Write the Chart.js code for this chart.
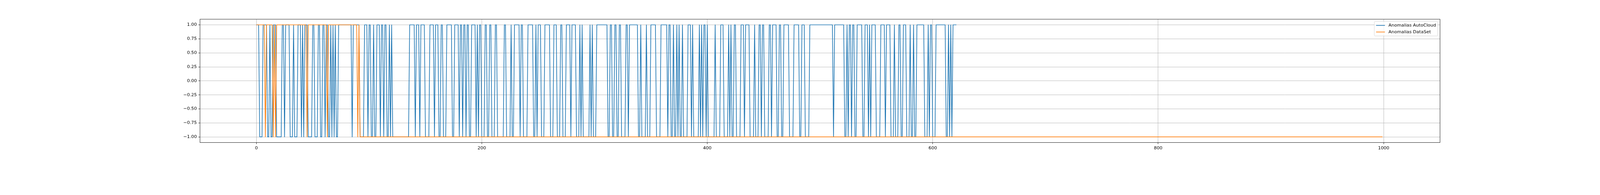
<!DOCTYPE html>
<html>
<head>
<meta charset="utf-8">
<script src="https://cdn.jsdelivr.net/npm/chart.js@4"></script>
<style>
  html, body { margin: 0; padding: 0; background: #ffffff; overflow: hidden; }
  #wrap { position: relative; width: 100vw; height: 100vh; }
  canvas { display: block; }
</style>
</head>
<body>
<div id="wrap"><canvas id="c"></canvas></div>
<script>
// ---- data ----
const seriesLabels = ['Anomalias AutoCloud', 'Anomalias DataSet'];
const seriesColors = ['#1f77b4', '#ff7f0e'];

const autoCloud = [
  1,1,1,-1,-1,-1,1,1,1,1,-1,-1,1,-1,-1,1,1,1,-1,-1,
  -1,-1,-1,1,1,-1,1,1,1,1,-1,-1,-1,1,-1,-1,-1,1,1,1,
  -1,1,-1,1,1,1,-1,-1,-1,-1,1,1,-1,-1,-1,1,1,-1,-1,1,
  1,-1,1,1,-1,-1,1,-1,1,-1,1,-1,-1,1,1,1,1,1,1,1,
  1,1,1,1,1,-1,1,1,1,1,1,1,-1,-1,-1,-1,1,1,1,-1,
  1,1,-1,-1,1,-1,-1,1,1,1,-1,1,1,-1,1,1,-1,-1,1,-1,
  1,-1,-1,-1,-1,-1,-1,-1,-1,-1,-1,-1,-1,-1,-1,-1,1,1,1,1,
  1,-1,1,1,1,-1,1,1,1,1,-1,-1,-1,-1,1,1,1,1,-1,1,
  1,1,-1,-1,1,1,-1,-1,-1,1,1,1,1,1,-1,-1,1,1,1,1,
  -1,1,1,-1,1,1,-1,1,1,-1,-1,1,1,1,1,-1,1,-1,1,1,
  -1,-1,-1,1,1,-1,-1,1,1,-1,-1,-1,1,1,-1,-1,-1,-1,-1,-1,
  1,1,-1,-1,-1,-1,1,-1,-1,1,1,1,1,1,-1,1,1,-1,-1,-1,
  -1,1,1,1,1,1,-1,-1,1,-1,1,1,1,-1,-1,-1,1,1,1,1,
  1,-1,-1,-1,1,1,1,-1,-1,-1,1,1,-1,-1,-1,1,1,1,1,-1,
  1,1,1,1,-1,-1,-1,1,-1,1,-1,-1,-1,-1,-1,-1,1,-1,1,-1,
  -1,-1,1,1,1,1,1,1,1,1,1,1,-1,-1,1,1,-1,-1,1,1,
  -1,-1,1,1,-1,-1,-1,-1,1,1,-1,1,1,1,1,1,1,1,1,-1,
  -1,1,-1,-1,-1,-1,1,-1,-1,-1,1,1,1,1,1,-1,-1,-1,-1,1,
  1,1,1,1,1,-1,1,1,-1,-1,1,-1,-1,1,-1,1,-1,-1,1,-1,
  -1,-1,-1,1,1,1,-1,1,-1,-1,-1,-1,-1,1,-1,1,-1,1,1,-1,
  1,-1,-1,-1,-1,-1,-1,1,-1,-1,-1,-1,1,1,1,-1,-1,-1,-1,1,
  -1,1,-1,-1,1,1,-1,-1,-1,-1,1,1,1,-1,1,1,1,1,-1,-1,
  -1,-1,1,-1,-1,-1,1,1,-1,1,1,-1,-1,-1,-1,1,1,-1,1,1,
  1,1,-1,-1,1,1,-1,-1,1,1,1,1,1,-1,-1,-1,-1,1,1,1,
  1,1,-1,-1,1,1,1,-1,-1,-1,-1,1,1,1,1,1,1,1,1,1,
  1,1,1,1,1,1,1,1,1,1,1,1,-1,1,1,1,1,1,1,1,
  1,1,-1,-1,1,-1,1,1,-1,1,1,-1,-1,1,1,1,1,1,-1,-1,
  1,1,1,-1,1,-1,1,1,1,1,-1,-1,-1,-1,1,1,1,1,-1,1,
  1,1,1,-1,-1,-1,1,-1,-1,-1,1,1,-1,-1,1,1,1,-1,-1,-1,
  1,-1,-1,1,-1,-1,1,1,1,1,1,1,1,-1,-1,-1,1,-1,1,1,
  -1,-1,-1,1,1,1,1,1,1,1,1,1,-1,-1,1,-1,1,-1,1,1,
  1,1
];

const dataSet = [
  1,1,1,1,1,1,1,1,-1,1,1,1,1,1,1,-1,1,-1,1,1,1,1,1,1,1,1,1,1,1,1,1,1,1,1,1,1,1,1,1,1,1,1,1,1,1,-1,1,1,1,1,
  1,1,1,1,1,1,1,1,1,1,1,1,1,-1,1,1,1,1,1,1,1,1,1,1,1,1,1,1,1,1,1,1,1,1,1,1,1,1,1,1,-1,1,-1,-1,-1,-1,-1,-1,-1,-1,
  -1,-1,-1,-1,-1,-1,-1,-1,-1,-1,-1,-1,-1,-1,-1,-1,-1,-1,-1,-1,-1,-1,-1,-1,-1,-1,-1,-1,-1,-1,-1,-1,-1,-1,-1,-1,-1,-1,-1,-1,-1,-1,-1,-1,-1,-1,-1,-1,-1,-1,
  -1,-1,-1,-1,-1,-1,-1,-1,-1,-1,-1,-1,-1,-1,-1,-1,-1,-1,-1,-1,-1,-1,-1,-1,-1,-1,-1,-1,-1,-1,-1,-1,-1,-1,-1,-1,-1,-1,-1,-1,-1,-1,-1,-1,-1,-1,-1,-1,-1,-1,
  -1,-1,-1,-1,-1,-1,-1,-1,-1,-1,-1,-1,-1,-1,-1,-1,-1,-1,-1,-1,-1,-1,-1,-1,-1,-1,-1,-1,-1,-1,-1,-1,-1,-1,-1,-1,-1,-1,-1,-1,-1,-1,-1,-1,-1,-1,-1,-1,-1,-1,
  -1,-1,-1,-1,-1,-1,-1,-1,-1,-1,-1,-1,-1,-1,-1,-1,-1,-1,-1,-1,-1,-1,-1,-1,-1,-1,-1,-1,-1,-1,-1,-1,-1,-1,-1,-1,-1,-1,-1,-1,-1,-1,-1,-1,-1,-1,-1,-1,-1,-1,
  -1,-1,-1,-1,-1,-1,-1,-1,-1,-1,-1,-1,-1,-1,-1,-1,-1,-1,-1,-1,-1,-1,-1,-1,-1,-1,-1,-1,-1,-1,-1,-1,-1,-1,-1,-1,-1,-1,-1,-1,-1,-1,-1,-1,-1,-1,-1,-1,-1,-1,
  -1,-1,-1,-1,-1,-1,-1,-1,-1,-1,-1,-1,-1,-1,-1,-1,-1,-1,-1,-1,-1,-1,-1,-1,-1,-1,-1,-1,-1,-1,-1,-1,-1,-1,-1,-1,-1,-1,-1,-1,-1,-1,-1,-1,-1,-1,-1,-1,-1,-1,
  -1,-1,-1,-1,-1,-1,-1,-1,-1,-1,-1,-1,-1,-1,-1,-1,-1,-1,-1,-1,-1,-1,-1,-1,-1,-1,-1,-1,-1,-1,-1,-1,-1,-1,-1,-1,-1,-1,-1,-1,-1,-1,-1,-1,-1,-1,-1,-1,-1,-1,
  -1,-1,-1,-1,-1,-1,-1,-1,-1,-1,-1,-1,-1,-1,-1,-1,-1,-1,-1,-1,-1,-1,-1,-1,-1,-1,-1,-1,-1,-1,-1,-1,-1,-1,-1,-1,-1,-1,-1,-1,-1,-1,-1,-1,-1,-1,-1,-1,-1,-1,
  -1,-1,-1,-1,-1,-1,-1,-1,-1,-1,-1,-1,-1,-1,-1,-1,-1,-1,-1,-1,-1,-1,-1,-1,-1,-1,-1,-1,-1,-1,-1,-1,-1,-1,-1,-1,-1,-1,-1,-1,-1,-1,-1,-1,-1,-1,-1,-1,-1,-1,
  -1,-1,-1,-1,-1,-1,-1,-1,-1,-1,-1,-1,-1,-1,-1,-1,-1,-1,-1,-1,-1,-1,-1,-1,-1,-1,-1,-1,-1,-1,-1,-1,-1,-1,-1,-1,-1,-1,-1,-1,-1,-1,-1,-1,-1,-1,-1,-1,-1,-1,
  -1,-1,-1,-1,-1,-1,-1,-1,-1,-1,-1,-1,-1,-1,-1,-1,-1,-1,-1,-1,-1,-1,-1,-1,-1,-1,-1,-1,-1,-1,-1,-1,-1,-1,-1,-1,-1,-1,-1,-1,-1,-1,-1,-1,-1,-1,-1,-1,-1,-1,
  -1,-1,-1,-1,-1,-1,-1,-1,-1,-1,-1,-1,-1,-1,-1,-1,-1,-1,-1,-1,-1,-1,-1,-1,-1,-1,-1,-1,-1,-1,-1,-1,-1,-1,-1,-1,-1,-1,-1,-1,-1,-1,-1,-1,-1,-1,-1,-1,-1,-1,
  -1,-1,-1,-1,-1,-1,-1,-1,-1,-1,-1,-1,-1,-1,-1,-1,-1,-1,-1,-1,-1,-1,-1,-1,-1,-1,-1,-1,-1,-1,-1,-1,-1,-1,-1,-1,-1,-1,-1,-1,-1,-1,-1,-1,-1,-1,-1,-1,-1,-1,
  -1,-1,-1,-1,-1,-1,-1,-1,-1,-1,-1,-1,-1,-1,-1,-1,-1,-1,-1,-1,-1,-1,-1,-1,-1,-1,-1,-1,-1,-1,-1,-1,-1,-1,-1,-1,-1,-1,-1,-1,-1,-1,-1,-1,-1,-1,-1,-1,-1,-1,
  -1,-1,-1,-1,-1,-1,-1,-1,-1,-1,-1,-1,-1,-1,-1,-1,-1,-1,-1,-1,-1,-1,-1,-1,-1,-1,-1,-1,-1,-1,-1,-1,-1,-1,-1,-1,-1,-1,-1,-1,-1,-1,-1,-1,-1,-1,-1,-1,-1,-1,
  -1,-1,-1,-1,-1,-1,-1,-1,-1,-1,-1,-1,-1,-1,-1,-1,-1,-1,-1,-1,-1,-1,-1,-1,-1,-1,-1,-1,-1,-1,-1,-1,-1,-1,-1,-1,-1,-1,-1,-1,-1,-1,-1,-1,-1,-1,-1,-1,-1,-1,
  -1,-1,-1,-1,-1,-1,-1,-1,-1,-1,-1,-1,-1,-1,-1,-1,-1,-1,-1,-1,-1,-1,-1,-1,-1,-1,-1,-1,-1,-1,-1,-1,-1,-1,-1,-1,-1,-1,-1,-1,-1,-1,-1,-1,-1,-1,-1,-1,-1,-1,
  -1,-1,-1,-1,-1,-1,-1,-1,-1,-1,-1,-1,-1,-1,-1,-1,-1,-1,-1,-1,-1,-1,-1,-1,-1,-1,-1,-1,-1,-1,-1,-1,-1,-1,-1,-1,-1,-1,-1,-1,-1,-1,-1,-1,-1,-1,-1,-1,-1,-1
];

const xTicks = [0, 200, 400, 600, 800, 1000];
const yTicks = [-1, -0.75, -0.5, -0.25, 0, 0.25, 0.5, 0.75, 1];
const xRange = [-50, 1050];
const yRange = [-1.1, 1.1];

// ---- layout: reference measured in 5000x500 picture pixels, scaled to CSS px ----
const K = window.innerWidth / 5000;
const FONT = '"DejaVu Sans", "Liberation Sans", sans-serif';
const FS = 13.89 * K;
const LW = 2.08 * K;
const THIN = 1.11 * K;
const GRID = '#b0b0b0';
const TICKLEN = 4.86 * K;
const Y_AXIS_W = 70 * K, X_AXIS_H = 40 * K;
const PLOT = { left: 625 * K, right: 4500 * K, top: 60 * K, bottom: 445 * K };
const CANVAS_W = 5000 * K, CANVAS_H = 500 * K;

const wrap = document.getElementById('wrap');
wrap.style.width = CANVAS_W + 'px';
wrap.style.height = CANVAS_H + 'px';

function toPoints(arr) { return arr.map((v, i) => ({ x: i, y: v })); }
function fmtY(v) { const s = Math.abs(v).toFixed(2); return v < 0 ? '\u2212' + s : s; }

const framePlugin = {
  id: 'frameAndLegend',
  afterDatasetsDraw(chart) {
    const ctx = chart.ctx, a = chart.chartArea;
    ctx.save();
    ctx.strokeStyle = '#000';
    ctx.lineWidth = THIN;
    ctx.strokeRect(a.left, a.top, a.right - a.left, a.bottom - a.top);
    ctx.restore();
  },
  afterDraw(chart) {
    const ctx = chart.ctx, a = chart.chartArea;
    ctx.save();
    ctx.font = FS + 'px ' + FONT;
    const tw = Math.max(...seriesLabels.map(l => ctx.measureText(l).width));
    const pad = 0.4 * FS, hl = 2 * FS, htp = 0.8 * FS, bap = 0.5 * FS, ls = 0.5 * FS;
    const th = 0.98 * FS;
    const w = pad + hl + htp + tw + pad;
    const h = pad * 2 + th * seriesLabels.length + ls * (seriesLabels.length - 1);
    const right = a.right - bap, top = a.top + bap, left = right - w;
    const r = 0.2 * FS;
    ctx.beginPath();
    ctx.moveTo(left + r, top);
    ctx.lineTo(right - r, top);
    ctx.quadraticCurveTo(right, top, right, top + r);
    ctx.lineTo(right, top + h - r);
    ctx.quadraticCurveTo(right, top + h, right - r, top + h);
    ctx.lineTo(left + r, top + h);
    ctx.quadraticCurveTo(left, top + h, left, top + h - r);
    ctx.lineTo(left, top + r);
    ctx.quadraticCurveTo(left, top, left + r, top);
    ctx.closePath();
    ctx.fillStyle = 'rgba(255,255,255,0.8)';
    ctx.fill();
    ctx.strokeStyle = '#cccccc';
    ctx.lineWidth = K;
    ctx.stroke();
    seriesLabels.forEach((lab, i) => {
      const cy = top + pad + th / 2 + i * (th + ls);
      ctx.strokeStyle = seriesColors[i];
      ctx.lineWidth = LW;
      ctx.lineCap = 'butt';
      ctx.beginPath();
      ctx.moveTo(left + pad, cy);
      ctx.lineTo(left + pad + hl, cy);
      ctx.stroke();
      ctx.fillStyle = '#000';
      ctx.textAlign = 'left';
      ctx.textBaseline = 'middle';
      ctx.fillText(lab, left + pad + hl + htp, cy);
    });
    ctx.restore();
  }
};

const lineDataset = (i, values, order) => ({
  label: seriesLabels[i],
  data: toPoints(values),
  borderColor: seriesColors[i],
  backgroundColor: seriesColors[i],
  borderWidth: LW,
  pointRadius: 0,
  pointHoverRadius: 0,
  tension: 0,
  fill: false,
  borderJoinStyle: 'round',
  order: order
});

new Chart(document.getElementById('c'), {
  type: 'line',
  data: {
    datasets: [lineDataset(0, autoCloud, 1), lineDataset(1, dataSet, 0)]
  },
  options: {
    responsive: true,
    maintainAspectRatio: false,
    animation: false,
    parsing: false,
    normalized: true,
    events: [],
    layout: {
      padding: {
        left: PLOT.left - Y_AXIS_W,
        right: CANVAS_W - PLOT.right,
        top: PLOT.top,
        bottom: CANVAS_H - PLOT.bottom - X_AXIS_H
      }
    },
    plugins: {
      legend: { display: false },
      tooltip: { enabled: false },
      title: { display: false }
    },
    scales: {
      x: {
        type: 'linear',
        min: xRange[0],
        max: xRange[1],
        afterBuildTicks: (s) => { s.ticks = xTicks.map(v => ({ value: v })); },
        afterFit: (s) => { s.height = X_AXIS_H; },
        ticks: {
          autoSkip: false,
          maxRotation: 0,
          minRotation: 0,
          padding: TICKLEN,
          color: '#000',
          font: { family: FONT, size: FS },
          callback: (v) => String(v)
        },
        grid: {
          color: GRID,
          lineWidth: THIN,
          tickColor: '#000',
          tickLength: TICKLEN,
          tickWidth: THIN,
          drawTicks: true
        },
        border: { display: false }
      },
      y: {
        type: 'linear',
        min: yRange[0],
        max: yRange[1],
        afterBuildTicks: (s) => { s.ticks = yTicks.map(v => ({ value: v })); },
        afterFit: (s) => { s.width = Y_AXIS_W; },
        ticks: {
          autoSkip: false,
          padding: TICKLEN,
          color: '#000',
          font: { family: FONT, size: FS },
          callback: (v) => fmtY(v)
        },
        grid: {
          color: GRID,
          lineWidth: THIN,
          tickColor: '#000',
          tickLength: TICKLEN,
          tickWidth: THIN,
          drawTicks: true
        },
        border: { display: false }
      }
    }
  },
  plugins: [framePlugin]
});
</script>
</body>
</html>
